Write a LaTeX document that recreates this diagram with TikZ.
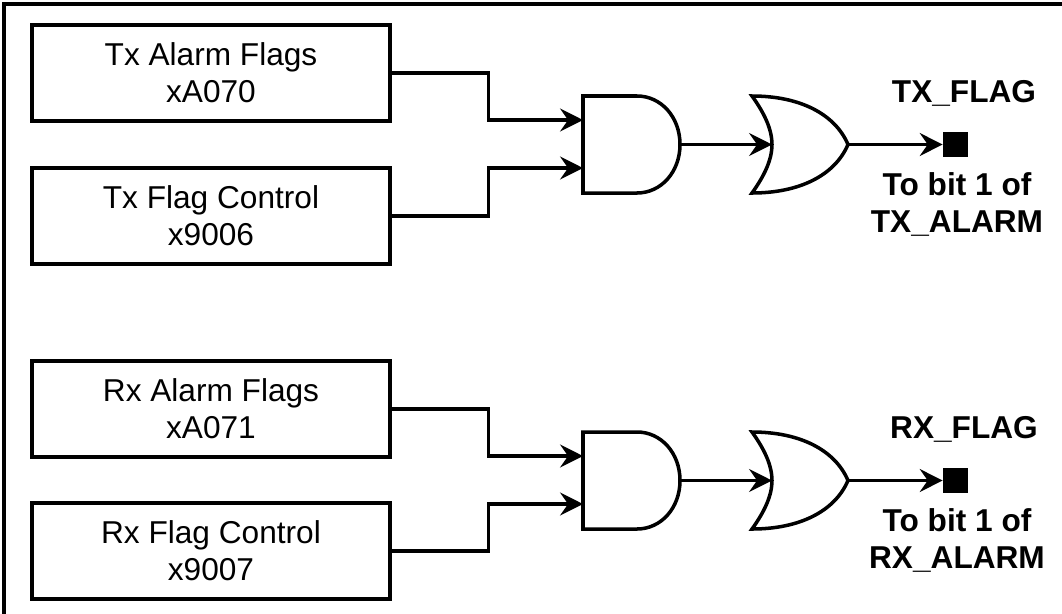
\documentclass[tikz,border=0pt]{standalone}
\usepackage{fontspec}
\setmainfont{Liberation Sans}
\usepackage{tikz}
\usetikzlibrary{arrows.meta}

\begin{document}
\begin{tikzpicture}[x=0.02cm,y=-0.02cm]
\tikzstyle{register}=[rectangle,align=center,draw,line width=2pt,minimum width=7.16cm,minimum height=1.92cm,font=\fontsize{18}{21}\selectfont]
\tikzstyle{wire}=[line width=2pt]
\tikzstyle{arrow_in}=[wire,-{Stealth[length=13pt,width=13pt,inset=4.5pt]}]
\tikzstyle{flag_pin}=[rectangle,fill=black,inner sep=0pt,minimum size=0.5cm]
\tikzstyle{flag_label}=[align=center,anchor=base,font=\fontsize{18}{21}\selectfont\bfseries]
\useasboundingbox (0,0) rectangle (1062,613);
\clip (0,0) rectangle (1062,613);
\draw[line width=2pt] (4,4) rectangle (1080,630);

% Tx
\node[register] (tx_alarm) at (211,73){Tx Alarm Flags\\xA070};
\node[register] (tx_ctrl) at (211,216){Tx Flag Control\\x9006};
\coordinate (tx_and_in1) at (583,120);
\coordinate (tx_and_in2) at (583,168);
\coordinate (tx_and_out) at (680,144.5);
\coordinate (tx_or_in) at (772,144.5);
\coordinate (tx_or_out) at (848,144.5);
\draw[wire] (583,96) -- (637,96) .. controls (661,96) and (680,117) .. (tx_and_out)
  .. controls (680,172) and (661,193) .. (637,193) -- (583,193) -- cycle;
\draw[wire] (752,96) .. controls (765,114) and (772,130) .. (tx_or_in)
  .. controls (772,159) and (765,175) .. (752,193)
  .. controls (800,193) and (835,175) .. (tx_or_out)
  .. controls (835,114) and (800,96) .. cycle;
\node[flag_pin] (tx_flag) at (955.5,144.5){};
\node[flag_label] (tx_flag_name) at (964,102){TX\_FLAG};
\node[flag_label] (tx_flag_dest) at (957,232){To bit 1 of\\TX\_ALARM};
\draw[arrow_in] (tx_alarm.east) -- ++(97,0) |- (tx_and_in1);
\draw[arrow_in] (tx_ctrl.east) -- ++(97,0) |- (tx_and_in2);
\draw[arrow_in] (tx_and_out) -- (tx_or_in);
\draw[arrow_in] (tx_or_out) -- (tx_flag.west);

% Rx
\node[register] (rx_alarm) at (211,409){Rx Alarm Flags\\xA071};
\node[register] (rx_ctrl) at (211,551){Rx Flag Control\\x9007};
\coordinate (rx_and_in1) at (583,456);
\coordinate (rx_and_in2) at (583,504);
\coordinate (rx_and_out) at (680,480.5);
\coordinate (rx_or_in) at (772,480.5);
\coordinate (rx_or_out) at (848,480.5);
\draw[wire] (583,432) -- (637,432) .. controls (661,432) and (680,453) .. (rx_and_out)
  .. controls (680,508) and (661,529) .. (637,529) -- (583,529) -- cycle;
\draw[wire] (752,432) .. controls (765,450) and (772,466) .. (rx_or_in)
  .. controls (772,495) and (765,511) .. (752,529)
  .. controls (800,529) and (835,511) .. (rx_or_out)
  .. controls (835,450) and (800,432) .. cycle;
\node[flag_pin] (rx_flag) at (955.5,480.5){};
\node[flag_label] (rx_flag_name) at (964,438){RX\_FLAG};
\node[flag_label] (rx_flag_dest) at (957,568){To bit 1 of\\RX\_ALARM};
\draw[arrow_in] (rx_alarm.east) -- ++(97,0) |- (rx_and_in1);
\draw[arrow_in] (rx_ctrl.east) -- ++(97,0) |- (rx_and_in2);
\draw[arrow_in] (rx_and_out) -- (rx_or_in);
\draw[arrow_in] (rx_or_out) -- (rx_flag.west);

\end{tikzpicture}
\end{document}
